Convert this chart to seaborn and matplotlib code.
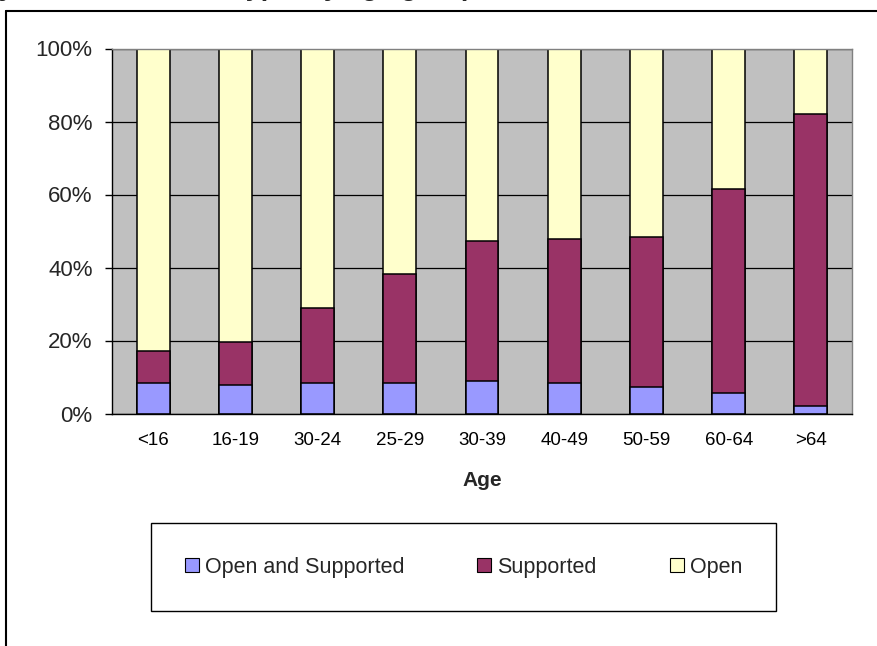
import numpy as np
import pandas as pd
import matplotlib
matplotlib.use("Agg")
import matplotlib.pyplot as plt
import seaborn as sns
from matplotlib.patches import Patch
from matplotlib.lines import Line2D
from matplotlib.ticker import FuncFormatter

# ---- data (percent of each age group) ----
age_groups = ["<16", "16-19", "30-24", "25-29", "30-39", "40-49", "50-59", "60-64", ">64"]
open_and_supported = [8.4, 7.9, 8.4, 8.3, 8.8, 8.4, 7.3, 5.5, 2.1]
supported = [8.7, 11.7, 20.4, 29.8, 38.5, 39.4, 41.1, 56.1, 79.9]
open_only = [82.9, 80.4, 71.2, 61.9, 52.7, 52.2, 51.6, 38.4, 18.0]
series_names = ["Open and Supported", "Supported", "Open"]
series_colors = ["#9999FF", "#993366", "#FFFFCC"]
y_ticks = [0, 20, 40, 60, 80, 100]
x_title = "Age"
title_text = "Households by accommodation type, by age group"

sns.set_style("white")
plt.rcParams['font.family'] = ['Liberation Sans', 'DejaVu Sans']

df = pd.DataFrame({"Age": age_groups,
                   "Open and Supported": open_and_supported,
                   "Supported": supported,
                   "Open": open_only})
df["c1"] = df["Open and Supported"]
df["c2"] = df["c1"] + df["Supported"]
df["c3"] = df["c2"] + df["Open"]

W, H = 877, 646
fig = plt.figure(figsize=(W / 100, H / 100), dpi=100)
ax = fig.add_axes([112 / W, 1 - 413.5 / H, 740 / W, 365 / H])
ax.set_facecolor("#C0C0C0")
ax.set_axisbelow(True)

# stacked bars drawn as overlaid cumulative totals (top layer first)
for col, color in zip(["c3", "c2", "c1"], series_colors[::-1]):
    sns.barplot(data=df, x="Age", y=col, color=color, saturation=1,
                width=0.4, edgecolor="black", linewidth=1.1, ax=ax,
                order=age_groups)

ax.set_xlim(-0.5, len(age_groups) - 0.5)
ax.set_ylim(0, 100)
ax.set_yticks(y_ticks)
ax.yaxis.set_major_formatter(FuncFormatter(lambda v, p: f"{v:.0f}%"))
ax.grid(axis="y", color="black", linewidth=0.9)
ax.grid(axis="x", visible=False)

ax.set_xticks(range(len(age_groups)))
ax.set_xticklabels(age_groups)
ax.set_xticks(np.arange(-0.5, len(age_groups), 1.0), minor=True)
ax.tick_params(axis="x", which="major", length=0, pad=13, labelsize=13.5, colors="black")
ax.tick_params(axis="x", which="minor", length=3.6, width=1, direction="out", color="black")
ax.tick_params(axis="y", which="major", length=5, width=1, direction="out", pad=9,
               labelsize=16, color="black", left=True)

for side in ["left", "bottom"]:
    ax.spines[side].set_color("black")
    ax.spines[side].set_linewidth(1)
for side in ["top", "right"]:
    ax.spines[side].set_color("#808080")
    ax.spines[side].set_linewidth(1)

ax.set_ylabel("")
ax.set_xlabel(x_title, fontsize=15, fontweight="bold", va="center")
ax.xaxis.set_label_coords(0.5, -(481 - 413.5) / 365)

handles = [Patch(facecolor=c, edgecolor="black", linewidth=0.8) for c in series_colors]
leg = fig.legend(handles, series_names, loc="center",
                 bbox_to_anchor=(463.5 / W, 1 - 567 / H), ncol=3,
                 frameon=True, fancybox=False, edgecolor="black", framealpha=1,
                 borderpad=1.55, handlelength=0.65, handleheight=0.65,
                 handletextpad=0.28, columnspacing=3.4, prop={"size": 15.5})
leg.get_frame().set_linewidth(1.0)

# outer chart frame (cropped: only left and top edges visible)
fig.add_artist(Line2D([6 / W, 6 / W], [0, 1 - 11 / H], transform=fig.transFigure,
                      color="black", linewidth=1.5))
fig.add_artist(Line2D([6 / W, 1], [1 - 11 / H, 1 - 11 / H], transform=fig.transFigure,
                      color="black", linewidth=1.5))

# title, cut off by the top edge of the crop (as in the reference)
fig.text(477 / W, 1 + 5 / H, title_text, ha="right", va="baseline",
         fontsize=19.5, fontweight="bold")

fig.savefig("out.png", dpi=100)
